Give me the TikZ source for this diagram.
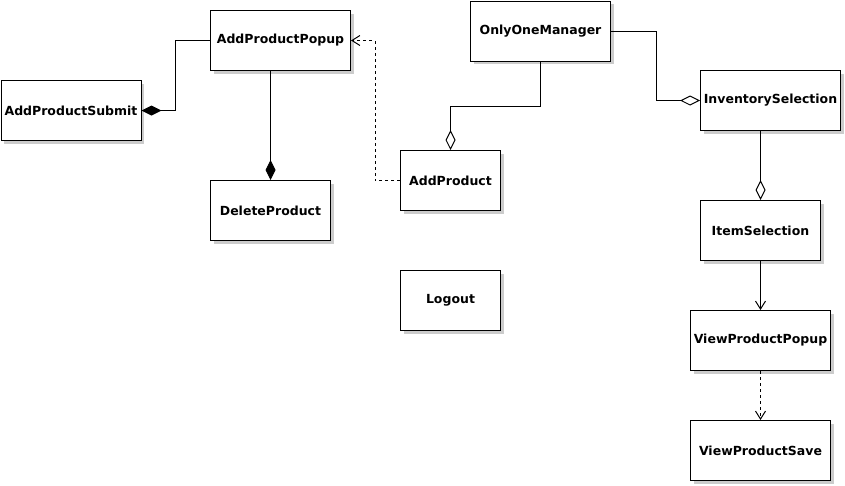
\documentclass[tikz,border=0pt]{standalone}
\usepackage{fontspec}
\setmainfont{DejaVu Sans}
\usetikzlibrary{arrows.meta,shadows}
\tikzset{
  cls/.style={draw=black, fill=white, line width=1pt, anchor=north west,
    minimum height=60pt, inner sep=0pt,
    font=\fontsize{12.5}{14}\selectfont\bfseries,
    drop shadow={shadow xshift=3pt, shadow yshift=-3pt, fill=black!20, opacity=1}},
  link/.style={draw=black, line width=1pt},
  compend/.style={link, -{Diamond[length=20pt,width=10pt,fill=black]}},
  aggend/.style={link, -{Diamond[length=20pt,width=10pt,open]}},
  dep/.style={link, dashed, -{Straight Barb[length=8pt,width=10pt]}},
  nav/.style={link, -{Straight Barb[length=8pt,width=10pt]}},
}
\begin{document}
\begin{tikzpicture}[x=1pt,y=-1pt]
\useasboundingbox (0,0) rectangle (845,485);

% class boxes
\node[cls, minimum width=140] (app)  at (210,10)  {AddProductPopup};
\node[cls, minimum width=140] (aps)  at (0.5,80)  {AddProductSubmit};
\node[cls, minimum width=120] (del)  at (210,180) {DeleteProduct};
\node[cls, minimum width=140] (oom)  at (470,0.5) {OnlyOneManager};
\node[cls, minimum width=100] (add)  at (400,150) {AddProduct};
\node[cls, minimum width=140] (inv)  at (700,70)  {InventorySelection};
\node[cls, minimum width=120] (item) at (700,200) {ItemSelection};
\node[cls, minimum width=100] (lgo)  at (400,270) {Logout};
\node[cls, minimum width=140] (vpp)  at (690,310) {ViewProductPopup};
\node[cls, minimum width=140] (vps)  at (690,420) {ViewProductSave};

% relations
\draw[compend] (app.west) -- ++(-35,0) |- (aps.east);
\draw[compend] (del.north |- app.south) -- (del.north);
\draw[dep] (add.west) -- ++(-25,0) |- (app.east);
\draw[aggend] (oom.south) -- ++(0,45) -| (add.north);
\draw[aggend] (oom.east) -- ++(45,0) |- (inv.west);
\draw[aggend] (item.north |- inv.south) -- (item.north);
\draw[nav] (item.south) -- (vpp.north);
\draw[dep] (vpp.south) -- (vps.north);
\end{tikzpicture}
\end{document}
